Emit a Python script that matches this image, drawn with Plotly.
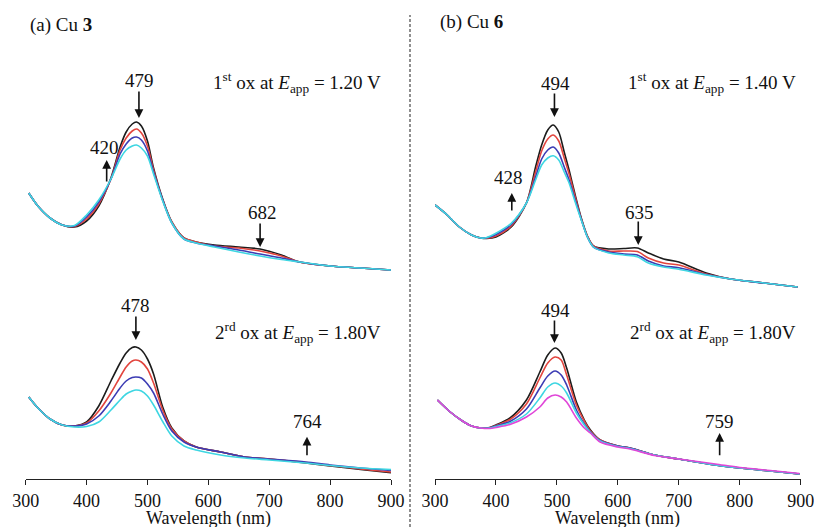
import plotly.graph_objects as go

# ---------------- data (absorbance, a.u.) ----------------
# (a) Cu 3, 1st oxidation
wl_a1 = [305, 320, 340, 360, 380, 400, 420, 440, 455, 465, 475, 482, 490, 500, 510, 525,
         540, 560, 580, 610, 650, 685, 720, 750, 800, 850, 900]
a1_black = [0.96, 0.83, 0.71, 0.64, 0.62, 0.68, 0.83, 1.11, 1.42, 1.57, 1.65, 1.67, 1.63, 1.48, 1.21, 0.90,
            0.67, 0.51, 0.47, 0.44, 0.42, 0.40, 0.34, 0.27, 0.23, 0.21, 0.19]
a1_red = [0.96, 0.83, 0.71, 0.64, 0.625, 0.70, 0.85, 1.10, 1.39, 1.51, 1.58, 1.60, 1.56, 1.43, 1.19, 0.89,
          0.67, 0.51, 0.47, 0.43, 0.41, 0.38, 0.33, 0.27, 0.23, 0.21, 0.19]
a1_blue = [0.96, 0.83, 0.71, 0.64, 0.63, 0.72, 0.87, 1.10, 1.35, 1.45, 1.51, 1.52, 1.49, 1.38, 1.17, 0.89,
           0.66, 0.50, 0.46, 0.43, 0.39, 0.35, 0.31, 0.27, 0.23, 0.21, 0.19]
a1_cyan = [0.96, 0.83, 0.71, 0.64, 0.635, 0.74, 0.89, 1.10, 1.30, 1.39, 1.43, 1.44, 1.41, 1.33, 1.15, 0.88,
           0.66, 0.50, 0.46, 0.42, 0.37, 0.33, 0.295, 0.27, 0.23, 0.21, 0.19]

# (a) Cu 3, 2nd oxidation
wl_a2 = [305, 320, 340, 360, 380, 400, 420, 440, 455, 465, 475, 481, 490, 500, 510, 525,
         540, 560, 580, 620, 660, 700, 760, 800, 850, 900]
a2_black = [0.82, 0.71, 0.60, 0.54, 0.53, 0.57, 0.73, 0.98, 1.16, 1.26, 1.315, 1.32, 1.29, 1.20, 1.05, 0.72,
            0.51, 0.38, 0.32, 0.27, 0.22, 0.20, 0.16, 0.13, 0.095, 0.063]
a2_red = [0.82, 0.71, 0.60, 0.54, 0.53, 0.56, 0.68, 0.86, 1.02, 1.12, 1.18, 1.19, 1.17, 1.10, 0.96, 0.69,
          0.50, 0.38, 0.32, 0.27, 0.22, 0.20, 0.165, 0.135, 0.10, 0.07]
a2_blue = [0.82, 0.71, 0.60, 0.54, 0.53, 0.55, 0.63, 0.78, 0.91, 0.98, 1.015, 1.02, 1.01, 0.95, 0.86, 0.65,
           0.48, 0.37, 0.32, 0.27, 0.22, 0.20, 0.17, 0.14, 0.11, 0.085]
a2_cyan = [0.82, 0.71, 0.60, 0.54, 0.52, 0.525, 0.57, 0.69, 0.79, 0.85, 0.88, 0.89, 0.88, 0.83, 0.74, 0.575,
           0.43, 0.33, 0.29, 0.24, 0.21, 0.19, 0.16, 0.135, 0.11, 0.095]

# (b) Cu 6, 1st oxidation
wl_b1 = [300, 320, 340, 360, 375, 385, 400, 425, 450, 465, 475, 485, 494, 503, 512, 520,
         530, 540, 550, 560, 585, 610, 632, 650, 675, 700, 745, 785, 840, 895]
b1_black = [0.84, 0.74, 0.62, 0.54, 0.51, 0.505, 0.52, 0.62, 0.86, 1.22, 1.44, 1.59, 1.64, 1.57, 1.37, 1.19,
            0.94, 0.71, 0.53, 0.43, 0.40, 0.405, 0.41, 0.36, 0.30, 0.27, 0.16, 0.10, 0.06, 0.02]
b1_red = [0.84, 0.74, 0.62, 0.54, 0.51, 0.508, 0.53, 0.63, 0.86, 1.17, 1.38, 1.50, 1.54, 1.48, 1.31, 1.15,
          0.92, 0.70, 0.53, 0.43, 0.38, 0.38, 0.375, 0.31, 0.26, 0.24, 0.15, 0.10, 0.06, 0.02]
b1_blue = [0.84, 0.74, 0.62, 0.54, 0.51, 0.512, 0.545, 0.645, 0.86, 1.12, 1.30, 1.39, 1.42, 1.36, 1.22, 1.09,
           0.89, 0.695, 0.52, 0.42, 0.37, 0.35, 0.34, 0.28, 0.23, 0.213, 0.145, 0.10, 0.06, 0.02]
b1_cyan = [0.84, 0.74, 0.62, 0.54, 0.51, 0.515, 0.557, 0.657, 0.86, 1.09, 1.24, 1.31, 1.333, 1.29, 1.17, 1.06,
           0.87, 0.69, 0.52, 0.42, 0.36, 0.34, 0.323, 0.26, 0.22, 0.197, 0.14, 0.10, 0.06, 0.02]

# (b) Cu 6, 2nd oxidation
wl_b2 = [304, 325, 345, 360, 375, 390, 400, 423, 450, 472, 485, 497, 507, 516, 532, 545,
         555, 571, 600, 620, 660, 700, 760, 800, 850, 898]
b2_black = [0.79, 0.67, 0.58, 0.53, 0.51, 0.515, 0.54, 0.61, 0.79, 1.07, 1.24, 1.31, 1.26, 1.11, 0.77, 0.59,
            0.49, 0.39, 0.33, 0.31, 0.24, 0.20, 0.14, 0.11, 0.08, 0.05]
b2_red = [0.79, 0.67, 0.58, 0.53, 0.51, 0.515, 0.535, 0.595, 0.75, 1.01, 1.16, 1.22, 1.19, 1.04, 0.74, 0.58,
          0.48, 0.39, 0.33, 0.31, 0.24, 0.20, 0.14, 0.11, 0.08, 0.05]
b2_blue = [0.79, 0.67, 0.58, 0.53, 0.51, 0.512, 0.53, 0.575, 0.70, 0.91, 1.03, 1.08, 1.04, 0.94, 0.69, 0.55,
           0.47, 0.385, 0.33, 0.31, 0.24, 0.20, 0.14, 0.11, 0.08, 0.05]
b2_cyan = [0.79, 0.67, 0.58, 0.53, 0.51, 0.51, 0.525, 0.56, 0.65, 0.81, 0.92, 0.96, 0.93, 0.86, 0.66, 0.54,
           0.465, 0.38, 0.325, 0.305, 0.24, 0.20, 0.14, 0.11, 0.08, 0.05]
b2_magenta = [0.79, 0.67, 0.58, 0.53, 0.51, 0.505, 0.515, 0.545, 0.62, 0.72, 0.81, 0.84, 0.82, 0.77, 0.61, 0.51,
              0.46, 0.37, 0.32, 0.30, 0.235, 0.20, 0.15, 0.115, 0.085, 0.055]

tick_vals = [300, 400, 500, 600, 700, 800, 900]
UPPER_OFFSET = 1.90

# ---------------- style ----------------
FONT = "Liberation Serif"
COL = {"black": "#1c1c1c", "red": "#e2453e", "blue": "#3c3cb4",
       "cyan": "#3ed6e2", "magenta": "#e046d8"}

fig = go.Figure()


def add_set(wl, series, xaxis, offset):
    for name, vals in series:
        fig.add_trace(go.Scatter(
            x=wl, y=[v + offset for v in vals], mode="lines", xaxis=xaxis, yaxis="y",
            line=dict(color=COL[name], width=1.6, shape="spline", smoothing=0.8),
            showlegend=False, hoverinfo="skip"))


add_set(wl_a1, [("black", a1_black), ("red", a1_red), ("blue", a1_blue), ("cyan", a1_cyan)], "x", UPPER_OFFSET)
add_set(wl_a2, [("black", a2_black), ("red", a2_red), ("blue", a2_blue), ("cyan", a2_cyan)], "x", 0)
add_set(wl_b1, [("black", b1_black), ("red", b1_red), ("blue", b1_blue), ("cyan", b1_cyan)], "x2", UPPER_OFFSET)
add_set(wl_b2, [("black", b2_black), ("red", b2_red), ("blue", b2_blue), ("cyan", b2_cyan),
                ("magenta", b2_magenta)], "x2", 0)

xcommon = dict(range=[300, 900], showline=True, linecolor="#222", linewidth=1.3,
               ticks="outside", ticklen=5, tickwidth=1.3, tickcolor="#222",
               tickvals=tick_vals, tickfont=dict(family=FONT, size=18, color="#111"),
               ticklabeloverflow="allow",
               showgrid=False, zeroline=False, anchor="y", automargin=False)

XDOM_A = [25.7 / 814, 391 / 814]
XDOM_B = [435 / 814, 800.7 / 814]

fig.update_layout(
    width=814, height=527,
    margin=dict(l=0, r=0, t=0, b=48, autoexpand=False),
    paper_bgcolor="white", plot_bgcolor="white",
    xaxis=dict(domain=XDOM_A, **xcommon),
    xaxis2=dict(domain=XDOM_B, **xcommon),
    yaxis=dict(range=[0, 4.79], visible=False, domain=[0, 1], automargin=False),
)

tf = dict(family=FONT, size=19, color="#111")
ann = []


def label(text, x, y, xref, xanchor="center"):
    ann.append(dict(text=text, x=x, y=y, xref=xref, yref="y", showarrow=False,
                    font=tf, xanchor=xanchor, yanchor="middle"))


def arrow(x, y_tail, y_head, xref):
    ann.append(dict(text="", x=x, y=y_head, ax=x, ay=y_tail, xref=xref, yref="y",
                    axref=xref, ayref="y", showarrow=True, arrowhead=2, arrowsize=1.1,
                    arrowwidth=1.6, arrowcolor="#111"))


# panel (a)
label("479", 487, 3.99, "x"); arrow(486, 3.89, 3.61, "x")
label("420", 429, 3.32, "x"); arrow(433, 2.96, 3.19, "x")
label("682", 689, 2.67, "x"); arrow(685, 2.57, 2.32, "x")
label("1<sup>st</sup> ox at <i>E</i><sub>app</sub> = 1.20 V", 887, 3.97, "x", "right")
label("478", 481, 1.74, "x"); arrow(481, 1.64, 1.39, "x")
label("2<sup>rd</sup> ox at <i>E</i><sub>app</sub> = 1.80V", 887, 1.47, "x", "right")
label("764", 763, 0.573, "x"); arrow(762, 0.223, 0.423, "x")

# panel (b)
label("494", 497, 3.96, "x2"); arrow(496, 3.87, 3.62, "x2")
label("428", 420, 3.02, "x2"); arrow(426, 2.67, 2.86, "x2")
label("635", 636, 2.67, "x2"); arrow(633.5, 2.59, 2.34, "x2")
label("1<sup>st</sup> ox at <i>E</i><sub>app</sub> = 1.40 V", 895, 3.97, "x2", "right")
label("494", 498, 1.69, "x2"); arrow(496, 1.60, 1.36, "x2")
label("2<sup>rd</sup> ox at <i>E</i><sub>app</sub> = 1.80V", 895, 1.47, "x2", "right")
label("759", 767, 0.573, "x2"); arrow(767, 0.223, 0.46, "x2")

# axis titles (placed just below the tick labels)
for dom in (XDOM_A, XDOM_B):
    ann.append(dict(text="Wavelength (nm)", x=(dom[0] + dom[1]) / 2, y=(479 - 518) / 479,
                    xref="paper", yref="paper", showarrow=False,
                    font=dict(family=FONT, size=18, color="#111"),
                    xanchor="center", yanchor="middle"))

# panel titles
ann.append(dict(text="(a) Cu <b>3</b>", x=28 / 814, y=(479 - 25) / 479, xref="paper", yref="paper",
                showarrow=False, font=tf, xanchor="left", yanchor="middle"))
ann.append(dict(text="(b) Cu <b>6</b>", x=438 / 814, y=(479 - 22) / 479, xref="paper", yref="paper",
                showarrow=False, font=tf, xanchor="left", yanchor="middle"))

fig.update_layout(annotations=ann)

# dashed separator
fig.add_shape(type="line", xref="paper", yref="paper", x0=410 / 814, x1=410 / 814,
              y0=(479 - 527) / 479, y1=(479 - 15) / 479,
              line=dict(color="#555", width=1.3, dash="3px,2px"))

fig.write_html("out.html", config={"displayModeBar": False},
               post_script="document.body.style.margin='0';document.body.style.padding='0';")
